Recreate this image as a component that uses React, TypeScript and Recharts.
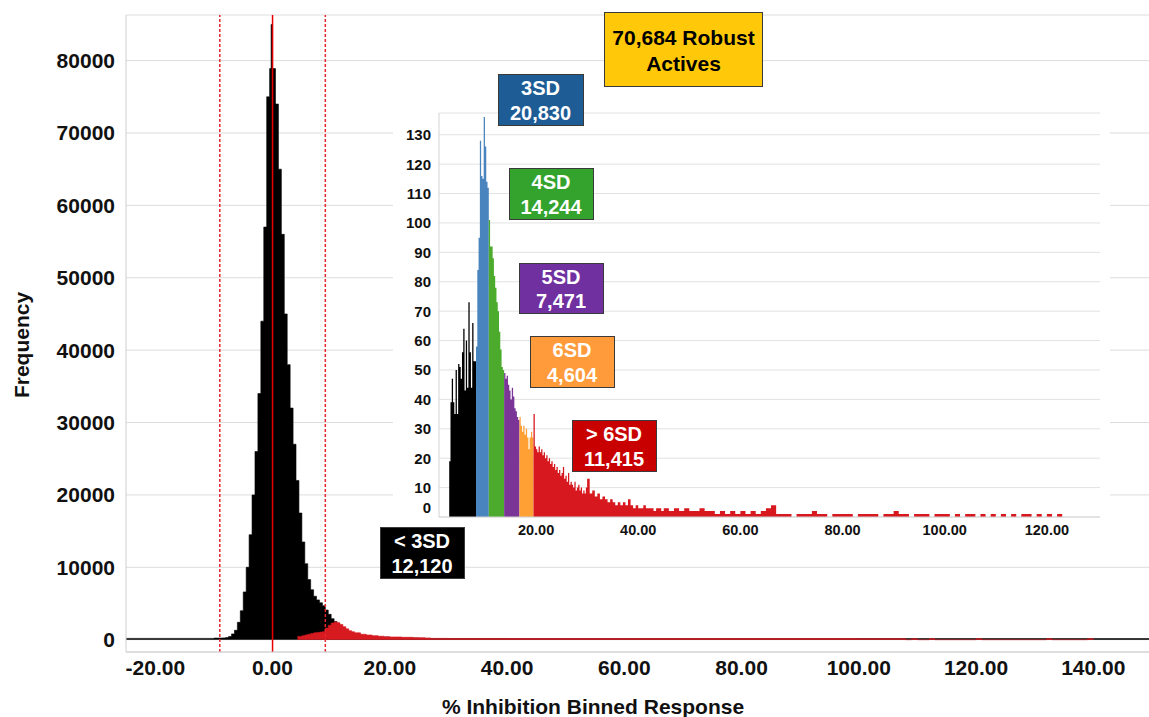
import React from 'react';
import { AreaChart, Area, XAxis, YAxis, CartesianGrid, ReferenceLine } from 'recharts';

const FONT = '"Liberation Sans", Arial, Helvetica, sans-serif';

// ---------------- main histogram (all compounds vs robust actives) ----------------
const mainTicksX = [-20, 0, 20, 40, 60, 80, 100, 120, 140];
const mainTicksY = [0, 10000, 20000, 30000, 40000, 50000, 60000, 70000, 80000];

const allBinStart = [
  -25, -20, -15, -10, -8.5, -8, -7.5, -7, -6.5, -6, -5.5, -5, -4.5, -4, -3.5, -3, -2.5, -2, -1.5, -1,
  -0.5, -0.25, 0, 0.5, 1, 1.5, 2, 2.5, 3, 3.5, 4, 4.5, 5, 5.5, 6, 6.5, 7, 7.5, 8, 8.5,
  9, 9.5, 10, 10.5, 11, 11.5, 12, 12.5, 13, 13.5, 14, 15, 16, 18, 20, 22, 25, 27, 30, 150,
];
const allCount = [
  180, 180, 180, 220, 250, 300, 450, 800, 1300, 2400, 4000, 6600, 10000, 14500, 20000, 26000, 34000, 44000, 57000, 75000,
  78900, 85000, 78900, 74000, 65000, 56000, 45000, 38000, 32000, 27000, 22000, 17500, 13500, 10500, 8300, 6900, 6000, 5500, 5100, 4700,
  4100, 3500, 2900, 2500, 2000, 1700, 1400, 1150, 950, 800, 700, 550, 450, 350, 280, 230, 180, 150, 150, 150,
];

const activeBinStart = [
  4.25, 5, 5.5, 6, 6.5, 7, 7.5, 8, 8.5, 9, 9.5, 10, 10.5, 11, 11.5, 12, 12.5, 13, 13.5, 14,
  15, 16, 17, 18, 19, 20, 22, 24, 26, 27, 30, 40, 50, 60, 70, 80, 90, 100, 105, 108,
  109, 110, 112, 113, 120, 121, 132, 133, 139, 140,
];
const activeCount = [
  450, 550, 650, 750, 850, 950, 1000, 1050, 1100, 1600, 2000, 2300, 2450, 2350, 2100, 1800, 1500, 1250, 1100, 950,
  750, 650, 550, 480, 420, 380, 330, 280, 230, 180, 170, 160, 160, 150, 150, 150, 150, 140, 140, 0,
  140, 0, 140, 0, 140, 0, 140, 0, 140, 0,
];

// ---------------- inset: actives by SD class (bin width 0.25 unless noted) ----------------
const insetTicksX = [20, 40, 60, 80, 100, 120];
const insetTicksY = [0, 10, 20, 30, 40, 50, 60, 70, 80, 90, 100, 110, 120, 130];

const lt3sdStart = 3.0;
const lt3sdCounts = [19, 39, 47, 39, 35, 50, 35, 52, 51, 47, 56, 64, 43, 60, 44, 73, 56, 44, 66, 53, 53];
const sd3Start = 8.25;
const sd3Counts = [58, 84, 95, 128, 116, 115, 136, 126, 114, 112];
const sd4Start = 10.75;
const sd4Counts = [101, 92, 92, 88, 82, 78, 73, 70, 63, 57, 51, 50];
const sd5Start = 13.75;
const sd5Counts = [49, 47, 48, 45, 43, 40, 44, 41, 37, 36, 34, 33];
const sd6Start = 16.75;
const sd6Counts = [34, 31, 29, 31, 28, 30, 27, 23, 27, 29, 27];
// > 6SD: three stretches with widths 0.25, 0.5 and 1.0
const gt6sdStartA = 19.5;
const gt6sdCountsA = [
  35, 24, 23, 22, 24, 22, 23, 21, 22, 20, 21, 19, 20, 18, 19, 17, 18, 16, 17, 15,
  16, 14, 15, 17, 13, 14, 12, 15, 11, 12, 11, 10, 12, 9, 10, 11, 9, 10, 8, 9, 8, 10,
];
const gt6sdStartB = 30;
const gt6sdCountsB = [13, 8, 9, 7, 8, 6, 7, 6, 5, 6, 5, 4, 5, 4, 5, 4, 6, 4, 3, 4, 3, 3, 4, 3, 3, 3, 2, 3, 3, 2];
const gt6sdStartC = 45;
const gt6sdCountsC = [
  3, 2, 3, 2, 3, 2, 2, 3, 2, 2, 1, 2, 1, 2, 1, 2, 1, 2, 1, 2,
  3, 4, 1, 1, 1, 0, 1, 1, 1, 2, 1, 1, 0, 1, 1, 1, 1, 0, 1, 1,
  1, 1, 0, 1, 1, 2, 1, 1, 0, 1, 1, 1, 0, 1, 1, 1, 0, 1, 0, 1,
  1, 0, 1, 0, 1, 0, 1, 0, 1, 0, 1, 1, 0, 1, 0, 1, 0, 1,
];

// annotation texts
const sdClassNames = ['< 3SD', '3SD', '4SD', '5SD', '6SD', '> 6SD'];
const sdClassTotals = ['12,120', '20,830', '14,244', '7,471', '4,604', '11,415'];
const robustTotal = '70,684';

// ---------------- helpers ----------------
type Row = { x: number; y: number };
const pairRows = (xs: number[], ys: number[]): Row[] => xs.map((x, i) => ({ x, y: ys[i] }));
const binRows = (start: number, width: number, counts: number[]): Row[] =>
  counts.map((c, i) => ({ x: start + i * width, y: c }));
const closeRows = (rows: Row[], end: number): Row[] => [...rows, { x: end, y: 0 }];

const allRows = pairRows(allBinStart, allCount);
const activeRows = pairRows(activeBinStart, activeCount);

const W = 0.25;
const lt3Rows = closeRows(binRows(lt3sdStart, W, lt3sdCounts), lt3sdStart + lt3sdCounts.length * W);
const sd3Rows = closeRows(binRows(sd3Start, W, sd3Counts), sd3Start + sd3Counts.length * W);
const sd4Rows = closeRows(binRows(sd4Start, W, sd4Counts), sd4Start + sd4Counts.length * W);
const sd5Rows = closeRows(binRows(sd5Start, W, sd5Counts), sd5Start + sd5Counts.length * W);
const sd6Rows = closeRows(binRows(sd6Start, W, sd6Counts), sd6Start + sd6Counts.length * W);
const gt6Rows = closeRows(
  [
    ...binRows(gt6sdStartA, 0.25, gt6sdCountsA),
    ...binRows(gt6sdStartB, 0.5, gt6sdCountsB),
    ...binRows(gt6sdStartC, 1, gt6sdCountsC),
  ],
  gt6sdStartC + gt6sdCountsC.length,
);

const fmt2 = (v: number) => v.toFixed(2);

const InsetYTick = (props: any) => {
  const { x, y, payload } = props;
  const shift = payload.value === 0 ? -10 : 0;
  return (
    <text x={x} y={y + shift} textAnchor="end" dominantBaseline="central" fill="#111"
      style={{ fontFamily: FONT, fontSize: 15, fontWeight: 700 }}>
      {payload.value}
    </text>
  );
};

const Box = ({ x, y, w, h, fill, color, l1, l2 }: any) => (
  <g>
    <rect x={x + 0.5} y={y + 0.5} width={w} height={h} fill={fill} stroke="#3a3a3a" strokeWidth={1} />
    <text x={x + w / 2} y={y + h * 0.27} textAnchor="middle" dominantBaseline="central" fill={color}
      style={{ fontFamily: FONT, fontSize: 20, fontWeight: 700 }}>{l1}</text>
    <text x={x + w / 2} y={y + h * 0.76} textAnchor="middle" dominantBaseline="central" fill={color}
      style={{ fontFamily: FONT, fontSize: 20, fontWeight: 700 }}>{l2}</text>
  </g>
);

export default function App() {
  const mainTick = { fill: '#111', fontSize: 21, fontWeight: 700, fontFamily: FONT };
  const insetTick = { fill: '#111', fontSize: 14.5, fontWeight: 700, fontFamily: FONT };
  return (
    <div style={{ position: 'absolute', left: 0, top: 0, width: 1149, height: 717, background: '#fff', overflow: 'hidden' }}>
      <AreaChart width={1149} height={717} data={allRows} margin={{ top: 15, right: 0, bottom: 0, left: 0 }}>
        <CartesianGrid vertical={false} stroke="#dddddd" />
        <XAxis type="number" dataKey="x" domain={[-25, 149.5]} ticks={mainTicksX} allowDataOverflow
          tickFormatter={fmt2} height={65} stroke="#cfcfcf" tickLine={false} tick={mainTick} interval={0} />
        <YAxis type="number" domain={[-1700, 86300]} ticks={mainTicksY} allowDataOverflow width={126}
          stroke="#cfcfcf" tickLine={false} tickMargin={5} tick={mainTick} interval={0} />
        <Area dataKey="y" type="stepAfter" fill="#000" fillOpacity={1} stroke="#000" strokeWidth={0.6}
          baseValue={0} isAnimationActive={false} />
        <Area data={activeRows} dataKey="y" type="stepAfter" fill="#d71a20" fillOpacity={1} stroke="#d71a20" strokeWidth={0.6}
          baseValue={0} isAnimationActive={false} />
        <ReferenceLine x={-9} stroke="#e8262e" strokeWidth={1.5} strokeDasharray="3 2" />
        <ReferenceLine x={0} stroke="#e80000" strokeWidth={1.5} />
        <ReferenceLine x={9} stroke="#e8262e" strokeWidth={1.5} strokeDasharray="3 2" />
      </AreaChart>

      <div style={{ position: 'absolute', left: 393, top: 95, width: 717, height: 455, background: '#fff' }}>
        <AreaChart width={717} height={455} margin={{ top: 18, right: 10, bottom: 0, left: 0 }}>
          <CartesianGrid vertical={false} stroke="#e2e2e2" />
          <XAxis type="number" dataKey="x" domain={[1, 130.4]} ticks={insetTicksX} allowDataOverflow
            tickFormatter={fmt2} height={33} stroke="#d4d4d4" tickLine={false} tick={insetTick} interval={0} />
          <YAxis type="number" domain={[0, 137.4]} ticks={insetTicksY} allowDataOverflow width={46}
            stroke="#d4d4d4" tickLine={false} tick={<InsetYTick />} interval={0} />
          <Area data={lt3Rows} dataKey="y" type="stepAfter" fill="#000" fillOpacity={1} stroke="none" baseValue={0} isAnimationActive={false} />
          <Area data={sd3Rows} dataKey="y" type="stepAfter" fill="#4a84bf" fillOpacity={1} stroke="none" baseValue={0} isAnimationActive={false} />
          <Area data={sd4Rows} dataKey="y" type="stepAfter" fill="#4cab2c" fillOpacity={1} stroke="none" baseValue={0} isAnimationActive={false} />
          <Area data={sd5Rows} dataKey="y" type="stepAfter" fill="#7a3596" fillOpacity={1} stroke="none" baseValue={0} isAnimationActive={false} />
          <Area data={sd6Rows} dataKey="y" type="stepAfter" fill="#ffa035" fillOpacity={1} stroke="none" baseValue={0} isAnimationActive={false} />
          <Area data={gt6Rows} dataKey="y" type="stepAfter" fill="#d7191f" fillOpacity={1} stroke="none" baseValue={0} isAnimationActive={false} />
        </AreaChart>
      </div>

      <svg width={1149} height={717} style={{ position: 'absolute', left: 0, top: 0, pointerEvents: 'none' }}>
        <text x={21} y={345} transform="rotate(-90 21 345)" textAnchor="middle" dominantBaseline="central" fill="#111"
          style={{ fontFamily: FONT, fontSize: 21, fontWeight: 700 }}>Frequency</text>
        <text x={593} y={706} textAnchor="middle" dominantBaseline="central" fill="#111"
          style={{ fontFamily: FONT, fontSize: 21, fontWeight: 700 }}>% Inhibition Binned Response</text>

        <g>
          <rect x={604.5} y={12.5} width={158} height={74} fill="#ffc90a" stroke="#3a3a3a" strokeWidth={1} />
          <text x={683.5} y={37.5} textAnchor="middle" dominantBaseline="central" fill="#000"
            style={{ fontFamily: FONT, fontSize: 21, fontWeight: 700 }}>{robustTotal} Robust</text>
          <text x={683.5} y={63} textAnchor="middle" dominantBaseline="central" fill="#000"
            style={{ fontFamily: FONT, fontSize: 21, fontWeight: 700 }}>Actives</text>
        </g>
        <Box x={498} y={74} w={85} h={51} fill="#1d5c95" color="#fff" l1={sdClassNames[1]} l2={sdClassTotals[1]} />
        <Box x={509} y={168} w={84} h={51} fill="#33a32e" color="#fff" l1={sdClassNames[2]} l2={sdClassTotals[2]} />
        <Box x={519} y={263} w={84} h={50} fill="#7030a0" color="#fff" l1={sdClassNames[3]} l2={sdClassTotals[3]} />
        <Box x={530} y={336} w={84} h={51} fill="#ff9b3a" color="#fff" l1={sdClassNames[4]} l2={sdClassTotals[4]} />
        <Box x={572} y={420} w={84} h={51} fill="#c80000" color="#fff" l1={sdClassNames[5]} l2={sdClassTotals[5]} />
        <Box x={380} y={527} w={84} h={51} fill="#000" color="#fff" l1={sdClassNames[0]} l2={sdClassTotals[0]} />
      </svg>
    </div>
  );
}
